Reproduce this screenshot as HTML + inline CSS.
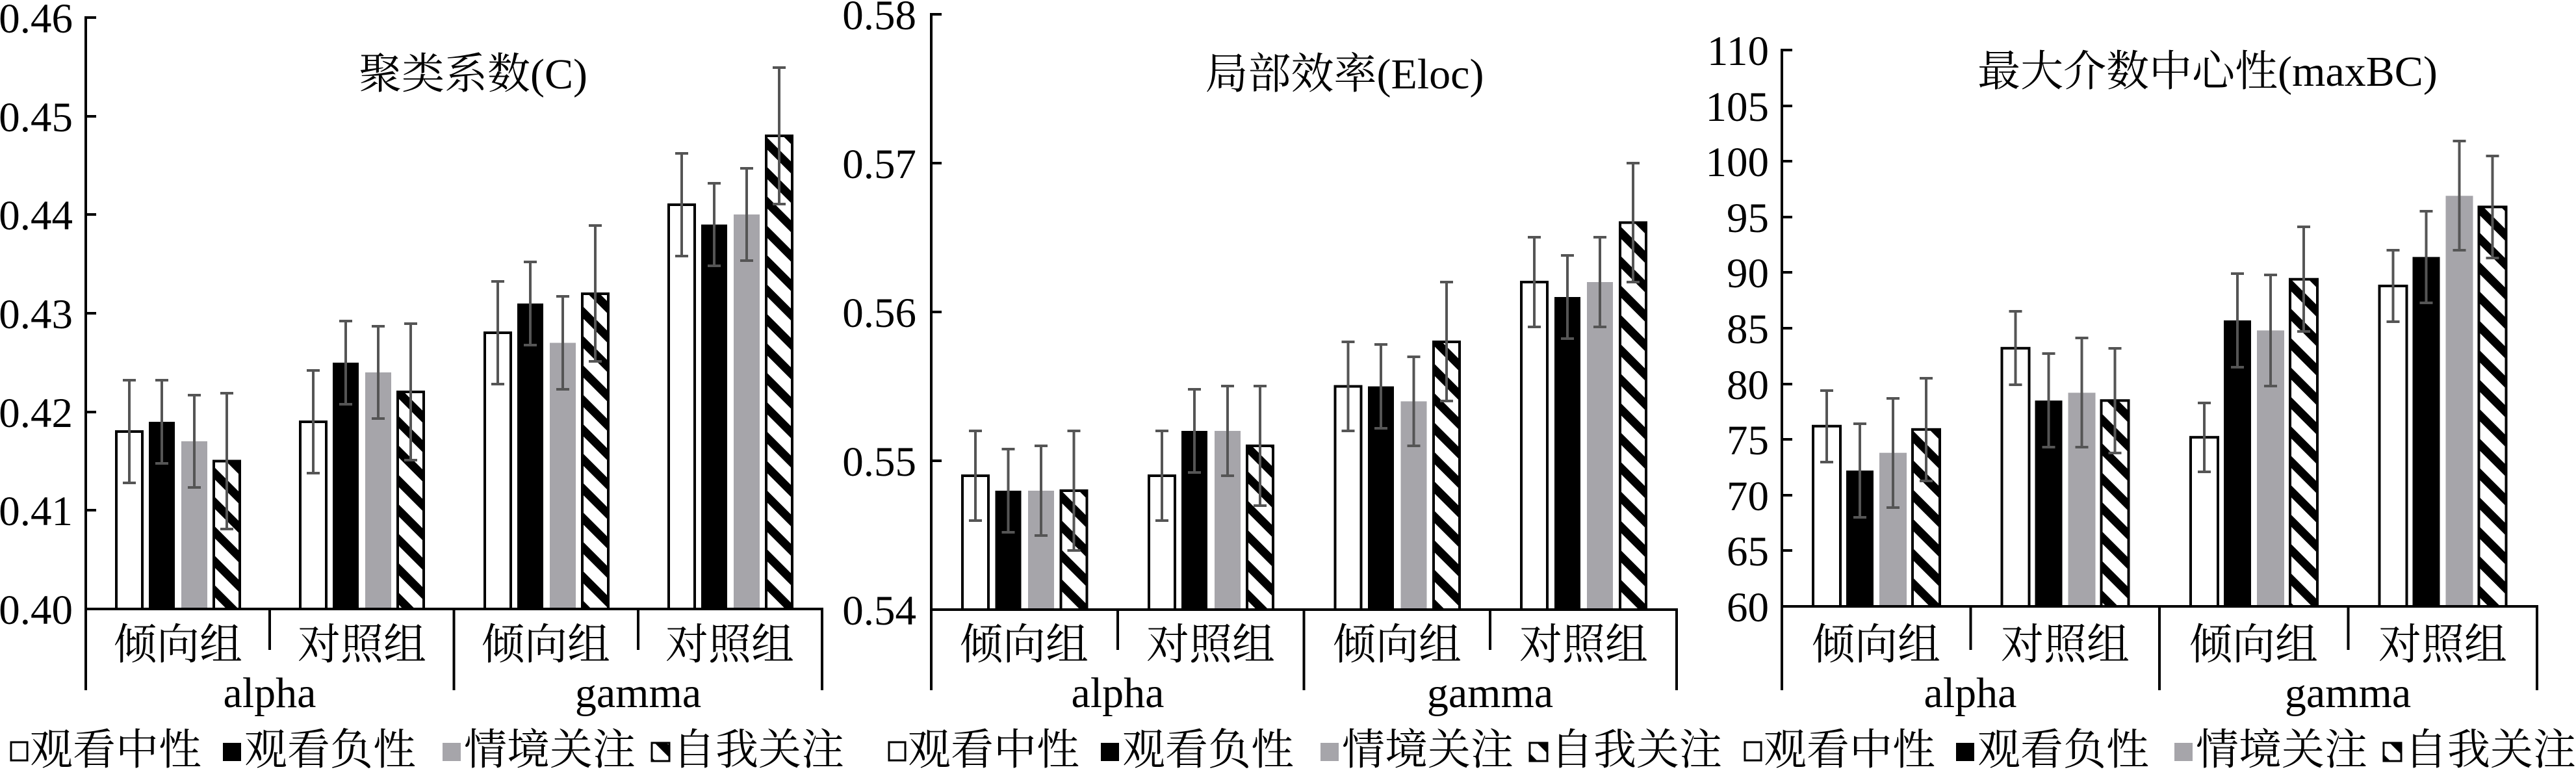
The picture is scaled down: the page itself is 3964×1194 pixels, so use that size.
<!DOCTYPE html>
<html><head><meta charset="utf-8"><style>
html,body{margin:0;padding:0;background:#fff;}
svg{display:block;}
svg, svg text{font-family:"Liberation Serif","Times New Roman","Noto Serif CJK SC","Noto Sans CJK SC",serif !important;fill:#000;}
.t{font-size:65px;text-anchor:end;}
.c{font-size:66px;text-anchor:middle;}
.l{font-size:66px;}
.w{fill:#fff;stroke:#000;stroke-width:4;}
.b{fill:#000;}
.g{fill:#a6a5aa;}
.h{fill:url(#hatch);stroke:#000;stroke-width:4;}
.e{stroke:#555;stroke-width:4;fill:none;}
.ax{stroke:#000;stroke-width:4;fill:none;}
</style></head><body>
<svg width="3964" height="1194" viewBox="0 0 3964 1194" xmlns="http://www.w3.org/2000/svg" font-family="'Liberation Serif','Noto Serif CJK SC',serif">
<defs>
<pattern id="hatch" patternUnits="userSpaceOnUse" width="32" height="32" patternTransform="rotate(-45)">
<rect width="32" height="32" fill="#fff"/><rect x="0" y="0" width="13" height="32" fill="#000"/>
</pattern>
</defs>

<!-- ===== Chart 1 ===== -->
<g>
<text class="c" x="728" y="136">聚类系数(C)</text>
<text class="t" x="112" y="960">0.40</text>
<text class="t" x="112" y="808">0.41</text>
<text class="t" x="112" y="657">0.42</text>
<text class="t" x="112" y="505">0.43</text>
<text class="t" x="112" y="353">0.44</text>
<text class="t" x="112" y="202">0.45</text>
<text class="t" x="112" y="50">0.46</text>
<rect class="w" x="179" y="664" width="40" height="273"/>
<rect class="b" x="229" y="649" width="40" height="288"/>
<rect class="g" x="279" y="679" width="40" height="258"/>
<rect class="h" x="329" y="709.5" width="40" height="227.5"/>
<rect class="w" x="462" y="649" width="40" height="288"/>
<rect class="b" x="512" y="558" width="40" height="379"/>
<rect class="g" x="562" y="573" width="40" height="364"/>
<rect class="h" x="612" y="603" width="40" height="334"/>
<rect class="w" x="746" y="512" width="40" height="425"/>
<rect class="b" x="796" y="467" width="40" height="470"/>
<rect class="g" x="846" y="527.5" width="40" height="409.5"/>
<rect class="h" x="896" y="452" width="40" height="485"/>
<rect class="w" x="1029" y="315" width="40" height="622"/>
<rect class="b" x="1079" y="345.5" width="40" height="591.5"/>
<rect class="g" x="1129" y="330" width="40" height="607"/>
<rect class="h" x="1179" y="209" width="40" height="728"/>
<path class="e" d="M199 585V743M189 585H209M189 743H209
M249 585V713M239 585H259M239 713H259
M299 608V750M289 608H309M289 750H309
M349 605V814M339 605H359M339 814H359
M482 570V728M472 570H492M472 728H492
M532 494V622M522 494H542M522 622H542
M582 502V644M572 502H592M572 644H592
M632 498V708M622 498H642M622 708H642
M766 433V591M756 433H776M756 591H776
M816 403V531M806 403H826M806 531H826
M866 456V599M856 456H876M856 599H876
M916 347V556M906 347H926M906 556H926
M1049 236V394M1039 236H1059M1039 394H1059
M1099 282V409M1089 282H1109M1089 409H1109
M1149 259V401M1139 259H1159M1139 401H1159
M1199 104V314M1189 104H1209M1189 314H1209"/>
<path class="ax" d="M132 25V1062M130 937H1267
M132 27H148M132 179H148M132 330H148M132 482H148M132 634H148M132 785H148
M415 937V1000M982 937V1000M698.5 937V1062M1265 935V1062"/>
<text class="c" x="274" y="1014">倾向组</text>
<text class="c" x="557" y="1014">对照组</text>
<text class="c" x="840" y="1014">倾向组</text>
<text class="c" x="1123" y="1014">对照组</text>
<text class="c" x="415" y="1088">alpha</text>
<text class="c" x="982" y="1088">gamma</text>
</g>

<!-- ===== Chart 2 ===== -->
<g>
<text class="c" x="2069" y="136">局部效率(Eloc)</text>
<text class="t" x="1410" y="961">0.54</text>
<text class="t" x="1410" y="732">0.55</text>
<text class="t" x="1410" y="503">0.56</text>
<text class="t" x="1410" y="274">0.57</text>
<text class="t" x="1410" y="45">0.58</text>
<rect class="w" x="1481" y="732" width="40" height="206"/>
<rect class="b" x="1531.5" y="755" width="40" height="183"/>
<rect class="g" x="1582" y="755" width="40" height="183"/>
<rect class="h" x="1632.5" y="755" width="40" height="183"/>
<rect class="w" x="1768" y="732" width="40" height="206"/>
<rect class="b" x="1818" y="663" width="40" height="275"/>
<rect class="g" x="1869" y="663" width="40" height="275"/>
<rect class="h" x="1919" y="686" width="40" height="252"/>
<rect class="w" x="2054.5" y="594.5" width="40" height="343.5"/>
<rect class="b" x="2105" y="594.5" width="40" height="343.5"/>
<rect class="g" x="2155.5" y="617.5" width="40" height="320.5"/>
<rect class="h" x="2206" y="526" width="40" height="412"/>
<rect class="w" x="2341" y="434" width="40" height="504"/>
<rect class="b" x="2392" y="457" width="40" height="481"/>
<rect class="g" x="2442" y="434" width="40" height="504"/>
<rect class="h" x="2493" y="342.5" width="40" height="595.5"/>
<path class="e" d="M1501 663V801M1491 663H1511M1491 801H1511
M1551.5 691V819M1541.5 691H1561.5M1541.5 819H1561.5
M1602 686V824M1592 686H1612M1592 824H1612
M1652.5 663V847M1642.5 663H1662.5M1642.5 847H1662.5
M1788 663V801M1778 663H1798M1778 801H1798
M1838 599V727M1828 599H1848M1828 727H1848
M1889 594V732M1879 594H1899M1879 732H1899
M1939 594V778M1929 594H1949M1929 778H1949
M2074.5 526V663M2064.5 526H2084.5M2064.5 663H2084.5
M2125 530V659M2115 530H2135M2115 659H2135
M2175.5 549V686M2165.5 549H2185.5M2165.5 686H2185.5
M2226 434V617M2216 434H2236M2216 617H2236
M2361 365V503M2351 365H2371M2351 503H2371
M2412 393V521M2402 393H2422M2402 521H2422
M2462 365V503M2452 365H2472M2452 503H2472
M2513 251V434M2503 251H2523M2503 434H2523"/>
<path class="ax" d="M1433 20V1062M1431 938H2582
M1433 22H1449M1433 251H1449M1433 480H1449M1433 709H1449
M1720 938V1000M2293 938V1000M2006.5 938V1062M2580 936V1062"/>
<text class="c" x="1576" y="1014">倾向组</text>
<text class="c" x="1863" y="1014">对照组</text>
<text class="c" x="2150" y="1014">倾向组</text>
<text class="c" x="2437" y="1014">对照组</text>
<text class="c" x="1720" y="1088">alpha</text>
<text class="c" x="2293" y="1088">gamma</text>
</g>

<!-- ===== Chart 3 ===== -->
<g>
<text class="c" x="3397" y="132">最大介数中心性(maxBC)</text>
<text class="t" x="2722" y="956">60</text>
<text class="t" x="2722" y="870">65</text>
<text class="t" x="2722" y="785">70</text>
<text class="t" x="2722" y="699">75</text>
<text class="t" x="2722" y="614">80</text>
<text class="t" x="2722" y="528">85</text>
<text class="t" x="2722" y="442">90</text>
<text class="t" x="2722" y="357">95</text>
<text class="t" x="2722" y="271">100</text>
<text class="t" x="2722" y="186">105</text>
<text class="t" x="2722" y="100">110</text>
<rect class="w" x="2790" y="655.7" width="42" height="277.3"/>
<rect class="b" x="2841" y="724" width="42" height="209"/>
<rect class="g" x="2892" y="696.7" width="42" height="236.3"/>
<rect class="h" x="2943" y="660.8" width="42" height="272.2"/>
<rect class="w" x="3080.5" y="535.8" width="42" height="397.2"/>
<rect class="b" x="3131.5" y="616.3" width="42" height="316.7"/>
<rect class="g" x="3182.5" y="604.3" width="42" height="328.7"/>
<rect class="h" x="3233.5" y="616.3" width="42" height="316.7"/>
<rect class="w" x="3371" y="672.8" width="42" height="260.2"/>
<rect class="b" x="3422" y="493" width="42" height="440"/>
<rect class="g" x="3473" y="508.4" width="42" height="424.6"/>
<rect class="h" x="3524" y="429.7" width="42" height="503.3"/>
<rect class="w" x="3661.5" y="440" width="42" height="493"/>
<rect class="b" x="3712.5" y="395.4" width="42" height="537.6"/>
<rect class="g" x="3763.5" y="301.3" width="42" height="631.7"/>
<rect class="h" x="3814.5" y="318.4" width="42" height="614.6"/>
<path class="e" d="M2811 601V711M2801 601H2821M2801 711H2821
M2862 652V796M2852 652H2872M2852 796H2872
M2913 613V781M2903 613H2923M2903 781H2923
M2964 582V740M2954 582H2974M2954 740H2974
M3101.5 479V592M3091.5 479H3111.5M3091.5 592H3111.5
M3152.5 544V688M3142.5 544H3162.5M3142.5 688H3162.5
M3203.5 520V688M3193.5 520H3213.5M3193.5 688H3213.5
M3254.5 536V697M3244.5 536H3264.5M3244.5 697H3264.5
M3392 620V726M3382 620H3402M3382 726H3402
M3443 421V565M3433 421H3453M3433 565H3453
M3494 423V594M3484 423H3504M3484 594H3504
M3545 349V510M3535 349H3555M3535 510H3555
M3682.5 385V495M3672.5 385H3692.5M3672.5 495H3692.5
M3733.5 325V466M3723.5 325H3743.5M3723.5 466H3743.5
M3784.5 217V385M3774.5 217H3794.5M3774.5 385H3794.5
M3835.5 240V397M3825.5 240H3845.5M3825.5 397H3845.5"/>
<path class="ax" d="M2742 75V1062M2740 933H3906
M2742 77H2758M2742 163H2758M2742 248H2758M2742 334H2758M2742 419H2758M2742 505H2758M2742 591H2758M2742 676H2758M2742 762H2758M2742 847H2758
M3032.5 933V1000M3613.5 933V1000M3323 933V1062M3904 931V1062"/>
<text class="c" x="2887" y="1014">倾向组</text>
<text class="c" x="3178" y="1014">对照组</text>
<text class="c" x="3468" y="1014">倾向组</text>
<text class="c" x="3759" y="1014">对照组</text>
<text class="c" x="3032" y="1088">alpha</text>
<text class="c" x="3613" y="1088">gamma</text>
</g>

<!-- ===== Legends ===== -->
<g>
<rect x="17" y="1142" width="25" height="28" fill="#fff" stroke="#000" stroke-width="3"/>
<text class="l" x="46" y="1176">观看中性</text>
<rect x="343" y="1143" width="28" height="28" fill="#000"/>
<text class="l" x="376" y="1176">观看负性</text>
<rect x="681" y="1143" width="28" height="28" fill="#a6a5aa"/>
<text class="l" x="714" y="1176">情境关注</text>
<rect x="1003" y="1143" width="27" height="28" fill="url(#hatch)" stroke="#000" stroke-width="3"/>
<text class="l" x="1035" y="1176">自我关注</text>

<rect x="1368" y="1142" width="25" height="28" fill="#fff" stroke="#000" stroke-width="3"/>
<text class="l" x="1397" y="1176">观看中性</text>
<rect x="1694" y="1143" width="28" height="28" fill="#000"/>
<text class="l" x="1727" y="1176">观看负性</text>
<rect x="2032" y="1143" width="28" height="28" fill="#a6a5aa"/>
<text class="l" x="2065" y="1176">情境关注</text>
<rect x="2354" y="1143" width="27" height="28" fill="url(#hatch)" stroke="#000" stroke-width="3"/>
<text class="l" x="2386" y="1176">自我关注</text>

<rect x="2685" y="1142" width="25" height="28" fill="#fff" stroke="#000" stroke-width="3"/>
<text class="l" x="2714" y="1176">观看中性</text>
<rect x="3010" y="1143" width="28" height="28" fill="#000"/>
<text class="l" x="3043" y="1176">观看负性</text>
<rect x="3346" y="1143" width="28" height="28" fill="#a6a5aa"/>
<text class="l" x="3379" y="1176">情境关注</text>
<rect x="3668" y="1143" width="27" height="28" fill="url(#hatch)" stroke="#000" stroke-width="3"/>
<text class="l" x="3700" y="1176">自我关注</text>
</g>
</svg>
</body></html>
